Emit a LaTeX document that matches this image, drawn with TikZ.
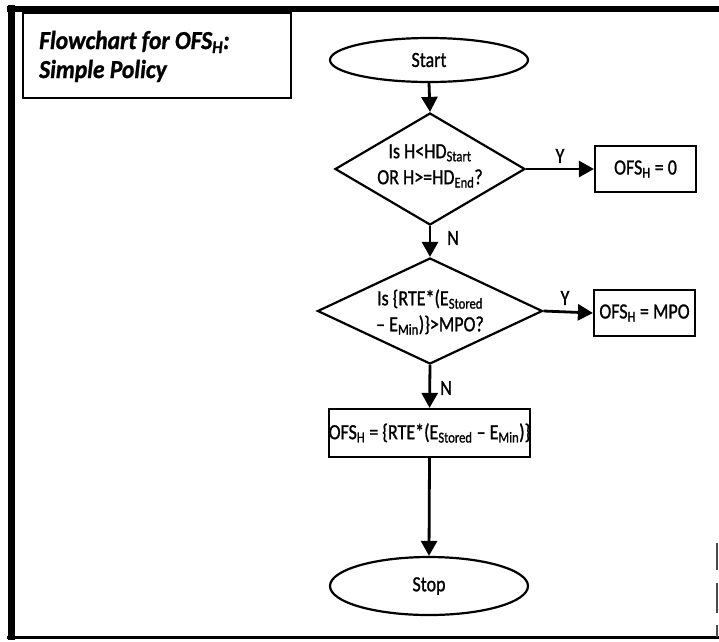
\documentclass[tikz,border=0pt]{standalone}
\usepackage{fontspec}
\setmainfont{Carlito}
\newfontfamily\dgf{Carlito}[FakeBold=1.2,Ligatures=TeX]
\newcommand\tx[1]{\scalebox{1}[1.2]{#1}}
\usetikzlibrary{shapes.geometric,arrows.meta}
\begin{document}
\begin{tikzpicture}[x=1pt,y=-1pt,
  every node/.style={font=\dgf\fontsize{18}{26}\selectfont},
  shp/.style={draw=black,line width=2.2pt},
  term/.style={shp,ellipse,minimum width=198pt,inner sep=0pt},
  dec/.style={shp,diamond,inner sep=0pt},
  proc/.style={shp,rectangle,inner sep=0pt},
  flow/.style={line width=2.8pt,-{Triangle[length=15pt,width=16pt]}},
  lbl/.style={inner sep=0pt},
  ttl/.style={anchor=base west,inner sep=0pt,font=\dgf\fontsize{23.5}{28}\selectfont\bfseries\itshape},
  frame/.style={line width=#1,black}]
\useasboundingbox (0,0) rectangle (719,641);
% outer frame
\draw[frame=6pt] (7,8.5) -- (719,8.5);
\draw[frame=7pt] (11,5) -- (11,640);
\draw[frame=3pt] (7,637) -- (719,637);
\draw[frame=1.2pt,black!70] (717,543) -- (717,570) (717,583) -- (717,613) (717,625) -- (717,637);
% title
\node[shp,rectangle,minimum width=268pt,minimum height=85pt,anchor=north west] (title) at (22,12) {};
\node[ttl] (t1) at (39,49) {\scalebox{1}[1.1]{Flowchart for OFS\textsubscript{H}:}};
\node[ttl] (t2) at (39,78) {\scalebox{1}[1.1]{Simple Policy}};
% nodes
\node[term,minimum height=44pt] (start) at (429,60) {\tx{Start}};
\node[dec,minimum width=190pt,minimum height=112pt] (d1) at (430,169) {};
\node[align=center,inner sep=0pt] (d1t) at (430,166) {\tx{Is H<HD\textsubscript{Start}}\\\tx{OR H>=HD\textsubscript{End}?}};
\node[proc,minimum width=101pt,minimum height=46pt] (b0) at (645.5,169) {\tx{OFS\textsubscript{H} = 0}};
\node[dec,minimum width=225pt,minimum height=106pt] (d2) at (430,311) {};
\node[align=center,inner sep=0pt] (d2t) at (430,312) {\tx{Is \{RTE*(E\textsubscript{Stored}}\\\tx{\textendash{} E\textsubscript{Min})\}>MPO?}};
\node[proc,minimum width=101pt,minimum height=46pt] (b1) at (644.5,313) {\tx{OFS\textsubscript{H} = MPO}};
\node[proc,minimum width=201pt,minimum height=48pt] (b2) at (429.5,433) {\tx{OFS\textsubscript{H} = \{RTE*(E\textsubscript{Stored} \textendash{} E\textsubscript{Min})\}}};
\node[term,minimum height=58pt] (stop) at (429,586) {\tx{Stop}};
% connectors
\draw[flow] (start.south) -- (d1.north);
\draw[flow] (d1.east) -- (b0.west);
\draw[flow] (d1.south) -- (d2.north);
\draw[flow] (d2.east) -- (b1.west);
\draw[flow] (d2.south) -- (b2.north);
\draw[flow] (b2.south) -- (stop.north);
% labels
\node[lbl] (y1) at (560,156) {\tx{Y}};
\node[lbl] (n1) at (453,238) {\tx{N}};
\node[lbl] (y2) at (565,298) {\tx{Y}};
\node[lbl] (n2) at (446,388) {\tx{N}};
\end{tikzpicture}
\end{document}
